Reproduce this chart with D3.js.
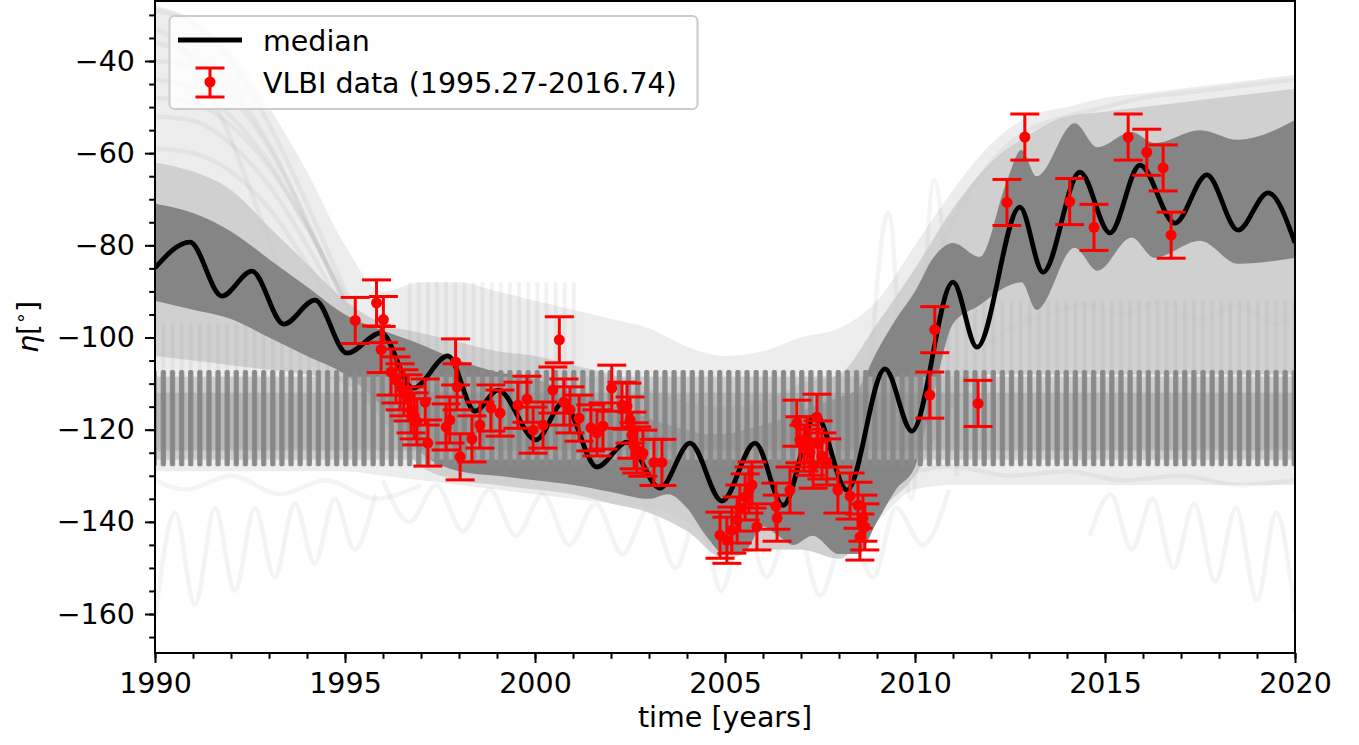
<!DOCTYPE html>
<html>
<head>
<meta charset="utf-8">
<script src="https://cdn.jsdelivr.net/npm/d3@7"></script>
<style>
body { margin: 0; background: #fff; }
svg text { font-family: "DejaVu Sans", sans-serif; }
</style>
</head>
<body>
<svg id="chart" width="1359" height="745"></svg>
<script>
// axis setup
var xTicks = [1990, 1995, 2000, 2005, 2010, 2015, 2020];
var yTicks = [-160, -140, -120, -100, -80, -60, -40];
var xDomain = [1990, 2020];
var yDomain = [-168.46, -26.98];

// VLBI measurements, sigma is the same for every point
var vlbiYears = [1995.27, 1995.83, 1996.01, 1995.95, 1996.21, 1996.34, 1996.45, 1996.55, 1996.66, 1996.74,
  1996.82, 1996.89, 1997.11, 1997.18, 1997.66, 1997.76, 1997.91, 1997.95, 1998.03, 1998.34,
  1998.55, 1998.84, 1999.08, 1999.55, 1999.79, 1999.95, 2000.21, 2000.47, 2000.64, 2000.76,
  2000.92, 2001.16, 2001.47, 2001.63, 2001.79, 2002.02, 2002.29, 2002.42, 2002.50, 2002.55,
  2002.61, 2002.68, 2002.84, 2003.13, 2003.34, 2004.87, 2005.05, 2005.18, 2005.32, 2005.39,
  2005.53, 2005.63, 2005.71, 2005.84, 2006.34, 2006.37, 2006.71, 2006.89, 2006.97, 2007.08,
  2007.16, 2007.24, 2007.32, 2007.42, 2007.45, 2007.55, 2007.68, 2007.97, 2008.29, 2008.50,
  2008.63, 2008.68, 2008.55, 2010.39, 2010.52, 2011.66, 2012.42, 2012.89, 2014.07, 2014.71,
  2015.61, 2016.10, 2016.53, 2016.74];
var vlbiEta = [-96.3, -92.5, -96.1, -102.6, -107.5, -109.2, -110.7, -112.0, -113.1, -115.7,
  -117.0, -118.3, -114.0, -122.9, -119.4, -117.9, -105.3, -110.7, -125.9, -122.0,
  -119.0, -115.3, -116.4, -114.7, -113.4, -120.1, -119.0, -111.4, -100.5, -114.0,
  -115.7, -117.5, -119.6, -120.7, -119.2, -111.0, -114.7, -114.9, -117.9, -121.2,
  -123.5, -124.4, -125.1, -127.1, -127.1, -142.9, -144.0, -141.8, -139.6, -137.0,
  -134.6, -133.1, -132.0, -141.1, -136.6, -139.2, -133.1, -118.6, -122.2, -124.0,
  -122.2, -124.9, -127.7, -117.3, -123.1, -125.7, -127.0, -133.1, -134.4, -136.4,
  -139.2, -141.1, -143.3, -112.5, -98.3, -114.3, -70.7, -56.5, -70.5, -76.1,
  -56.5, -59.8, -63.2, -77.8];
var vlbiSigma = 5;

// median of the samples (turning points)
var medianYears = [1990.00, 1990.92, 1991.76, 1992.55, 1993.39, 1994.21, 1995.05, 1995.95, 1996.79, 1997.71,
  1998.42, 1999.03, 2000.03, 2000.74, 2001.63, 2002.42, 2003.29, 2004.08, 2004.92, 2005.79,
  2006.53, 2007.39, 2008.21, 2009.21, 2009.92, 2011.00, 2011.63, 2012.76, 2013.37, 2014.34,
  2015.13, 2015.92, 2016.84, 2017.68, 2018.50, 2019.29, 2020.00];
var medianEta = [-84.9, -79.3, -91.0, -85.6, -97.1, -91.9, -103.4, -99.0, -111.0, -104.0,
  -116.0, -111.4, -122.2, -114.2, -128.1, -122.7, -132.7, -122.9, -135.5, -122.9,
  -136.4, -116.8, -133.1, -106.8, -120.3, -88.0, -102.1, -71.7, -85.8, -64.1,
  -77.3, -62.6, -75.2, -64.7, -76.7, -68.6, -79.5];

// sample spread: [year, upper, lower]
var outerSpread = [[1990, -28, -129], [1991, -31, -129], [1992, -38, -129], [1993, -50, -129], [1994, -64, -129],
  [1995, -80, -129], [1996, -90, -130], [1997, -88, -131], [1998, -88, -132], [1999, -90, -133],
  [2000, -92, -134], [2001, -94, -135], [2002, -96, -136], [2003, -98, -137], [2004, -102, -140],
  [2005, -104, -148], [2006, -103, -146], [2007, -100, -146], [2008, -98, -148], [2009, -92, -140],
  [2010, -80, -133], [2011, -68, -132], [2012, -58, -132], [2013, -52, -132], [2014, -50, -132],
  [2015, -48, -132], [2016, -47, -132], [2017, -46, -132], [2018, -45, -132], [2019, -44, -132], [2020, -43, -132]];
var midSpread = [[1990, -62, -104], [1991, -64, -105], [1992, -68, -106], [1993, -76, -107], [1994, -84, -108],
  [1995, -92, -110], [1996, -97, -118], [1997, -99, -128], [1998, -101, -131], [1999, -103, -132],
  [2000, -104, -133], [2001, -106, -134], [2002, -108, -136], [2003, -111, -138], [2004, -114, -142],
  [2005, -115, -148], [2006, -114, -146], [2007, -110, -146], [2008, -108, -148], [2009, -97, -138],
  [2010, -85, -130], [2011, -72, -115], [2012, -62, -108], [2013, -56, -108], [2014, -52, -108],
  [2015, -51, -108], [2016, -50, -108], [2017, -49, -108], [2018, -48, -108], [2019, -47, -108], [2020, -46, -108]];
var coreSpread = [[1990, -71, -92], [1991, -73, -94], [1992, -77, -96], [1993, -83, -100], [1994, -89, -104],
  [1995, -95, -108], [1996, -98.5, -115], [1997, -101.5, -125], [1998, -105, -129], [1999, -107.5, -130],
  [2000, -109, -131], [2001, -112, -132], [2002, -114.5, -133.5], [2003, -117.5, -135], [2003.5, -119, -134],
  [2004, -120, -137], [2004.5, -121, -143], [2005, -121, -147], [2005.5, -120, -146.5], [2006, -119, -141],
  [2006.4, -118, -143], [2006.8, -117, -145], [2007.3, -115, -143], [2008, -113, -147], [2008.5, -111, -147],
  [2009, -103, -140], [2009.5, -96, -133], [2010, -90, -128], [2010.5, -82.5, -112], [2011, -79.5, -97],
  [2011.7, -82.5, -93], [2012.4, -66.5, -89], [2012.8, -59.3, -88], [2013.2, -65, -94], [2014.2, -53.5, -80.5],
  [2014.8, -58.7, -85.5], [2015.7, -55.4, -78.3], [2016.3, -57.8, -82.7], [2017.5, -55, -79], [2018.5, -57.1, -84],
  [2020, -52.8, -82.7]];

// the fast-wobbling group of samples
var fastBand = [-107, -128];
var fastPeriod = 0.24;
var faintFingerSpans = [[1990, 1995.6, -97], [1996.6, 2001.2, -88], [2010.2, 2020, -92]];

// a few of the outlying samples
var faintLines = [
  [[1990, -29], [1990.8, -31], [1991.6, -36], [1992.4, -45], [1993.2, -57], [1994, -71], [1994.8, -86], [1995.6, -100]],
  [[1990, -33], [1990.6, -36], [1991.2, -43], [1991.9, -55], [1992.6, -70], [1993.3, -86], [1994, -102]],
  [[1990, -36], [1990.8, -38], [1991.6, -42], [1992.4, -50], [1993.2, -61], [1994, -75], [1994.8, -89], [1995.6, -102]],
  [[1990, -40], [1990.9, -41], [1991.8, -46], [1992.7, -55], [1993.6, -68], [1994.5, -84], [1995.3, -98]],
  [[1990, -44], [1991, -46], [1992, -52], [1993, -62], [1994, -76], [1995, -92], [1995.8, -104]],
  [[1990, -48], [1991, -49], [1992, -54], [1993, -63], [1994, -76], [1995, -91]],
  [[1990, -52], [1991, -53], [1992, -58], [1993, -67], [1994, -80], [1995, -95]],
  [[1990, -59], [1991, -60], [1992, -64], [1993, -72], [1994, -84], [1995, -98]],
  [[1990, -161], [1990.53, -138], [1991.05, -158], [1991.58, -137], [1992.1, -155], [1992.63, -137], [1993.15, -152],
   [1993.68, -136], [1994.2, -149], [1994.73, -135], [1995.25, -146], [1995.8, -134]],
  [[2014.6, -143], [2015.15, -134], [2015.7, -146], [2016.25, -135], [2016.8, -150], [2017.35, -136], [2017.9, -153],
   [2018.45, -137], [2019.0, -157], [2019.5, -138], [2020, -160]],
  [[1996, -131], [1996.7, -140], [1997.4, -132], [1998.1, -142], [1998.8, -133], [1999.5, -143], [2000.2, -134],
   [2000.9, -145], [2001.6, -136], [2002.3, -147], [2003, -137], [2003.7, -150], [2004.3, -138], [2004.9, -155],
   [2005.5, -140], [2006.1, -152], [2006.8, -138], [2007.5, -156], [2008.2, -142], [2008.9, -152], [2009.5, -137],
   [2010.2, -145], [2010.9, -133]],
  [[1990, -131], [1990.8, -133], [1992, -130], [1993.3, -134], [1994.5, -131], [1995.8, -135], [1997, -132]],
  [[2009, -115], [2010, -95], [2011, -75], [2012, -62], [2013, -55], [2014, -52], [2015, -50], [2016, -48],
   [2017, -47], [2018, -46], [2019, -45], [2020, -44]],
  [[2009, -120], [2010, -105], [2011, -92], [2012, -85], [2013, -80], [2014, -77], [2015, -80], [2016, -75],
   [2017, -78], [2018, -74], [2019, -77], [2020, -73]],
  [[2009.5, -125], [2010.5, -115], [2011.5, -105], [2012.5, -98], [2013.5, -95], [2014.5, -93], [2015.5, -95],
   [2016.5, -92], [2017.5, -96], [2018.5, -93], [2019.5, -97], [2020, -95]],
  [[2009.5, -130], [2011, -128], [2012.5, -130], [2014, -129], [2015.5, -131], [2017, -130], [2018.5, -132], [2020, -131]],
  [[2008.6, -140], [2009.3, -73], [2009.9, -135], [2010.5, -66], [2011.1, -130]]
];

var plotLeft = 155, plotRight = 1295, plotTop = 1, plotBottom = 653;
var fontSize = 28.5;

var svg = d3.select("#chart");
var x = d3.scaleLinear().domain(xDomain).range([plotLeft, plotRight]);
var y = d3.scaleLinear().domain(yDomain).range([plotBottom, plotTop]);

var defs = svg.append("defs");
defs.append("clipPath").attr("id", "plotClip")
  .append("rect")
  .attr("x", plotLeft).attr("y", plotTop)
  .attr("width", plotRight - plotLeft).attr("height", plotBottom - plotTop);

// stripes for the fast group
var period = x(xDomain[0] + fastPeriod) - x(xDomain[0]);
var fp = defs.append("pattern")
  .attr("id", "fingers")
  .attr("patternUnits", "userSpaceOnUse")
  .attr("x", x(1990.1)).attr("y", 0)
  .attr("width", period).attr("height", 745);
fp.append("rect")
  .attr("x", 0).attr("y", y(fastBand[0] - 1.5))
  .attr("width", period).attr("height", y(fastBand[1] + 1.5) - y(fastBand[0] - 1.5))
  .attr("fill", "rgb(185,185,185)").attr("fill-opacity", 0.6);
fp.append("rect")
  .attr("x", (period - 5.2) / 2).attr("y", y(fastBand[0]))
  .attr("width", 5.2).attr("height", y(fastBand[1]) - y(fastBand[0]))
  .attr("rx", 2.6)
  .attr("fill", "#898989");

var lp = defs.append("pattern")
  .attr("id", "faintFingers")
  .attr("patternUnits", "userSpaceOnUse")
  .attr("x", x(1990.1)).attr("y", 0)
  .attr("width", period).attr("height", 745);
lp.append("rect")
  .attr("x", (period - 4) / 2).attr("y", 0)
  .attr("width", 4).attr("height", 745)
  .attr("fill", "#808080").attr("fill-opacity", 0.1);

var plot = svg.append("g").attr("clip-path", "url(#plotClip)");

var spreadArea = d3.area()
  .x(function(d) { return x(d[0]); })
  .y0(function(d) { return y(d[2]); })
  .y1(function(d) { return y(d[1]); })
  .curve(d3.curveMonotoneX);

var sampleLine = d3.line()
  .x(function(d) { return x(d[0]); })
  .y(function(d) { return y(d[1]); })
  .curve(d3.curveMonotoneX);

plot.append("path").attr("d", spreadArea(outerSpread)).attr("fill", "#ededed");

plot.selectAll("path.faint")
  .data(faintLines)
  .enter().append("path")
  .attr("class", "faint")
  .attr("d", sampleLine)
  .attr("fill", "none")
  .attr("stroke", "#808080")
  .attr("stroke-opacity", 0.09)
  .attr("stroke-width", 4.5);

plot.append("path").attr("d", spreadArea(midSpread)).attr("fill", "#c8c8c8").attr("fill-opacity", 0.8);

plot.selectAll("rect.faintspan")
  .data(faintFingerSpans)
  .enter().append("rect")
  .attr("class", "faintspan")
  .attr("x", function(d) { return x(d[0]); })
  .attr("width", function(d) { return x(d[1]) - x(d[0]); })
  .attr("y", function(d) { return y(d[2]); })
  .attr("height", function(d) { return y(fastBand[0]) - y(d[2]); })
  .attr("fill", "url(#faintFingers)");

plot.append("path").attr("d", spreadArea(coreSpread)).attr("fill", "#858585");

// fast group on top
plot.append("rect")
  .attr("x", plotLeft).attr("width", plotRight - plotLeft)
  .attr("y", y(fastBand[0])).attr("height", y(fastBand[1]) - y(fastBand[0]))
  .attr("fill", "url(#fingers)");
plot.append("rect")
  .attr("x", plotLeft).attr("width", plotRight - plotLeft)
  .attr("y", y(fastBand[0] - 5)).attr("height", y(fastBand[1] + 3.5) - y(fastBand[0] - 5))
  .attr("fill", "#808080").attr("fill-opacity", 0.3);

// median
plot.append("path")
  .attr("d", sampleLine(d3.zip(medianYears, medianEta)))
  .attr("fill", "none")
  .attr("stroke", "#000")
  .attr("stroke-width", 4.8);

// VLBI error bars
var pts = d3.zip(vlbiYears, vlbiEta);
var eb = svg.append("g");
eb.selectAll("line.bar").data(pts).enter().append("line")
  .attr("x1", function(d) { return x(d[0]); })
  .attr("x2", function(d) { return x(d[0]); })
  .attr("y1", function(d) { return y(d[1] + vlbiSigma); })
  .attr("y2", function(d) { return y(d[1] - vlbiSigma); })
  .attr("stroke", "#ff0000").attr("stroke-width", 3);
[vlbiSigma, -vlbiSigma].forEach(function(s) {
  eb.selectAll("line.cap" + (s > 0 ? "a" : "b")).data(pts).enter().append("line")
    .attr("x1", function(d) { return x(d[0]) - 14.5; })
    .attr("x2", function(d) { return x(d[0]) + 14.5; })
    .attr("y1", function(d) { return y(d[1] + s); })
    .attr("y2", function(d) { return y(d[1] + s); })
    .attr("stroke", "#ff0000").attr("stroke-width", 3);
});
eb.selectAll("circle").data(pts).enter().append("circle")
  .attr("cx", function(d) { return x(d[0]); })
  .attr("cy", function(d) { return y(d[1]); })
  .attr("r", 5.5)
  .attr("fill", "#ff0000");

// axes
svg.append("g")
  .attr("transform", "translate(0," + plotBottom + ")")
  .call(d3.axisBottom(x).tickValues(xTicks).tickSize(10).tickPadding(10).tickSizeOuter(0).tickFormat(d3.format("d")));
svg.append("g")
  .attr("transform", "translate(0," + plotBottom + ")")
  .call(d3.axisBottom(x).tickValues(d3.range(1990, 2021)).tickSize(5.8).tickSizeOuter(0).tickFormat(""));
svg.append("g")
  .attr("transform", "translate(" + plotLeft + ",0)")
  .call(d3.axisLeft(y).tickValues(yTicks).tickSize(10).tickPadding(10).tickSizeOuter(0).tickFormat(d3.format("d")));
svg.append("g")
  .attr("transform", "translate(" + plotLeft + ",0)")
  .call(d3.axisLeft(y).tickValues(d3.range(-165, -25, 5)).tickSize(5.8).tickSizeOuter(0).tickFormat(""));

svg.selectAll(".domain").remove();
svg.selectAll(".tick line").attr("stroke", "#000").attr("stroke-width", 2);
svg.selectAll(".tick text")
  .attr("fill", "#000")
  .style("font-size", fontSize + "px")
  .style("font-family", "DejaVu Sans");

svg.append("rect")
  .attr("x", plotLeft).attr("y", plotTop)
  .attr("width", plotRight - plotLeft).attr("height", plotBottom - plotTop)
  .attr("fill", "none").attr("stroke", "#000").attr("stroke-width", 2);

// labels
svg.append("text")
  .attr("x", (plotLeft + plotRight) / 2).attr("y", 727)
  .attr("text-anchor", "middle")
  .style("font-size", fontSize + "px")
  .text("time [years]");

var yl = svg.append("text")
  .attr("transform", "translate(38," + (plotTop + plotBottom) / 2 + ") rotate(-90)")
  .attr("text-anchor", "middle")
  .style("font-size", fontSize + "px");
yl.append("tspan").style("font-style", "italic").text("\u03b7");
yl.append("tspan").text("[");
yl.append("tspan").attr("dy", -11).style("font-size", "19px").text("\u2218");
yl.append("tspan").attr("dy", 11).text("]");

// legend
var lg = svg.append("g");
lg.append("rect")
  .attr("x", 169.5).attr("y", 16).attr("width", 528).attr("height", 93).attr("rx", 5)
  .attr("fill", "#fff").attr("fill-opacity", 0.8)
  .attr("stroke", "#cccccc").attr("stroke-width", 2);
lg.append("line").attr("x1", 178).attr("x2", 242).attr("y1", 40).attr("y2", 40)
  .attr("stroke", "#000").attr("stroke-width", 4.8);
lg.append("text").attr("x", 263).attr("y", 50.5).style("font-size", fontSize + "px").text("median");
lg.append("line").attr("x1", 210).attr("x2", 210).attr("y1", 68).attr("y2", 97)
  .attr("stroke", "#ff0000").attr("stroke-width", 3);
lg.append("line").attr("x1", 195.5).attr("x2", 224.5).attr("y1", 68).attr("y2", 68)
  .attr("stroke", "#ff0000").attr("stroke-width", 3);
lg.append("line").attr("x1", 195.5).attr("x2", 224.5).attr("y1", 97).attr("y2", 97)
  .attr("stroke", "#ff0000").attr("stroke-width", 3);
lg.append("circle").attr("cx", 210).attr("cy", 82).attr("r", 5.5).attr("fill", "#ff0000");
var f2 = d3.format(".2f");
lg.append("text").attr("x", 263).attr("y", 92.5).style("font-size", fontSize + "px")
  .text("VLBI data (" + f2(d3.min(vlbiYears)) + "-" + f2(d3.max(vlbiYears)) + ")");
</script>
</body>
</html>
